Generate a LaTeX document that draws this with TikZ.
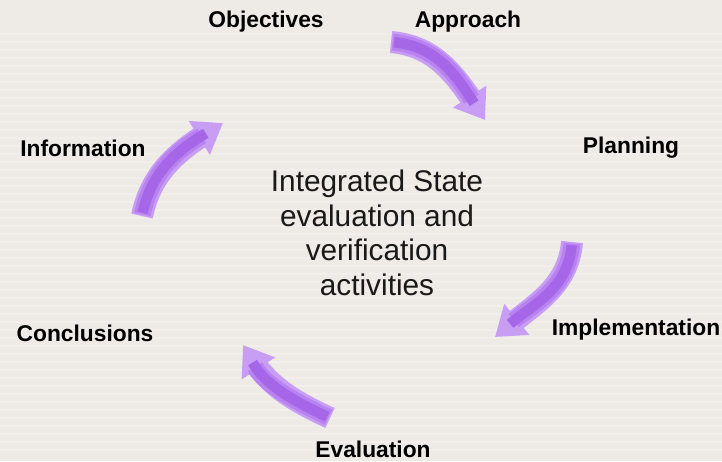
\documentclass[tikz,border=0pt]{standalone}
\usepackage{fontspec}
\setmainfont{Liberation Sans}
\usetikzlibrary{arrows.meta,bending}
\definecolor{bgpaper}{RGB}{238,234,230}
\definecolor{cyclepurple}{RGB}{200,158,245}
\definecolor{cyclemid}{RGB}{184,130,240}
\definecolor{cycledeep}{RGB}{166,102,232}
\tikzset{
	steplabel/.style={font=\fontsize{16.2}{19}\selectfont\bfseries, text=black},
	cyclearrow/.style={draw=cyclepurple, line width=0.55cm,
		-{Triangle[width=0.95cm,length=0.7cm,fill=cyclepurple]}},
	arrowmid/.style={draw=cyclemid, line width=0.42cm, shorten >=0.62cm, shorten <=0.04cm},
	arrowcore/.style={draw=cycledeep, line width=0.26cm, shorten >=0.5cm, shorten <=0.08cm}
}
\begin{document}
\begin{tikzpicture}[x=0.025cm,y=0.025cm]
	\useasboundingbox (0,0) rectangle (722,-461);
	\fill[bgpaper] (0,0) rectangle (722,-461);
	\foreach \y in {34,42,...,454}
		\draw[white,opacity=0.2,line width=0.05cm] (0,-\y) -- (722,-\y);
	% stages round the cycle
	\node[steplabel] (objectives) at (266,-22) {Objectives};
	\node[steplabel] (approach) at (468,-22) {Approach};
	\node[steplabel] (planning) at (631,-148) {Planning};
	\node[steplabel] (implementation) at (636,-330) {Implementation};
	\node[steplabel] (evaluation) at (373,-449) {Evaluation};
	\node[steplabel] (conclusions) at (85,-333) {Conclusions};
	\node[steplabel] (information) at (83,-148) {Information};
	\node[font=\fontsize{21.2}{24.5}\selectfont, align=center, text=black!90] (centre)
		at (377,-233) {Integrated State\\evaluation and\\verification\\activities};
	% curved arrows
	\coordinate (tailA) at (391,-42);
	\coordinate (tipA) at (485,-120);
	\coordinate (tailB) at (572,-242);
	\coordinate (tipB) at (495,-337);
	\coordinate (tailC) at (330,-418);
	\coordinate (tipC) at (243,-345);
	\coordinate (tailD) at (142,-216);
	\coordinate (tipD) at (223,-123);
	\draw[cyclearrow] (tailA) to[out=-5,in=123] (tipA);
	\draw[cyclearrow] (tailB) to[out=-95,in=41] (tipB);
	\draw[cyclearrow] (tailC) to[out=155,in=299] (tipC);
	\draw[cyclearrow] (tailD) to[out=78,in=211] (tipD);
	\draw[arrowmid] (tailA) to[out=-5,in=123] (tipA);
	\draw[arrowmid] (tailB) to[out=-95,in=41] (tipB);
	\draw[arrowmid] (tailC) to[out=155,in=299] (tipC);
	\draw[arrowmid] (tailD) to[out=78,in=211] (tipD);
	\draw[arrowcore] (tailA) to[out=-5,in=123] (tipA);
	\draw[arrowcore] (tailB) to[out=-95,in=41] (tipB);
	\draw[arrowcore] (tailC) to[out=155,in=299] (tipC);
	\draw[arrowcore] (tailD) to[out=78,in=211] (tipD);
\end{tikzpicture}
\end{document}
